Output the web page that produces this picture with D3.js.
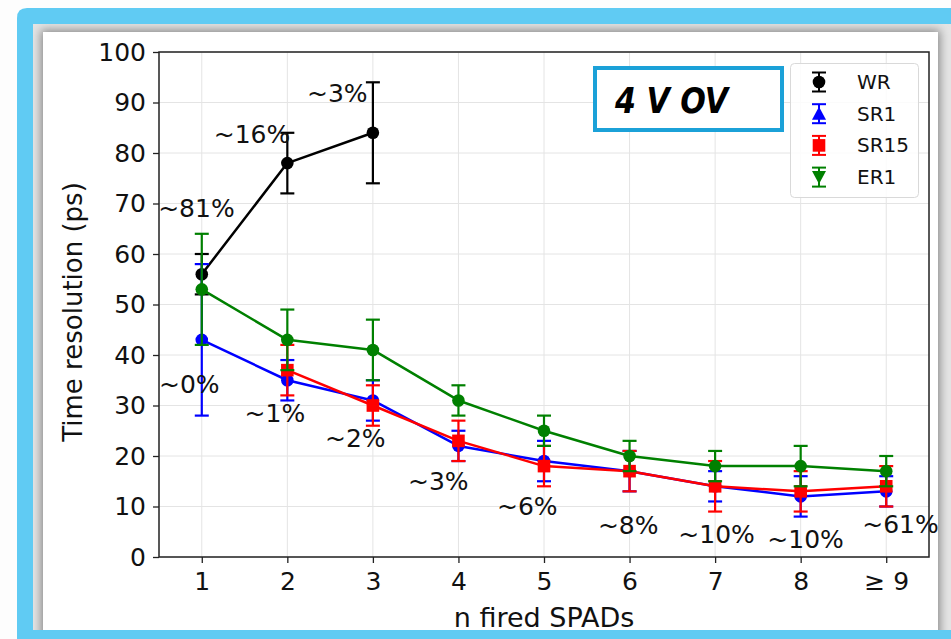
<!DOCTYPE html>
<html>
<head>
<meta charset="utf-8">
<script src="https://cdn.jsdelivr.net/npm/d3@7"></script>
<style>
  body { margin: 0; background: #fdfdfd; }
  svg { display: block; font-family: "DejaVu Sans", sans-serif; }
</style>
</head>
<body>
<script>
// n fired SPADs categories
const nSpads = [1, 2, 3, 4, 5, 6, 7, 8, 9];
const tickLabels = ["1", "2", "3", "4", "5", "6", "7", "8", "\u2265 9"];
const yTicks = [0, 10, 20, 30, 40, 50, 60, 70, 80, 90, 100];

// time resolution (ps) and errors, per series
const wrValues = [56, 78, 84];
const wrErrors = [4, 6, 10];
const sr1Values = [43, 35, 31, 22, 19, 17, 14, 12, 13];
const sr1Errors = [15, 4, 4, 3, 4, 4, 3, 4, 3];
const sr15Values = [null, 37, 30, 23, 18, 17, 14, 13, 14];
const sr15Errors = [null, 5, 4, 4, 4, 4, 5, 4, 4];
const er1Values = [53, 43, 41, 31, 25, 20, 18, 18, 17];
const er1Errors = [11, 6, 6, 3, 3, 3, 3, 4, 3];

// percentage notes and where they sit (data units)
const noteLabels = ["~81%", "~16%", "~3%", "~0%", "~1%", "~2%", "~3%", "~6%", "~8%", "~10%", "~10%", "~61%"];
const noteX = [0.49, 1.14, 2.23, 0.5, 1.5, 2.44, 3.41, 4.45, 5.63, 6.57, 7.61, 8.72];
const noteY = [67.3, 82, 90.1, 32.5, 26.7, 21.8, 13.3, 8.3, 4.6, 2.8, 1.8, 4.8];

const W = 951, H = 639;
const svg = d3.select("body").append("svg").attr("width", W).attr("height", H);
const defs = svg.append("defs");

// ---- picture frame ----
svg.append("path")
  .attr("d", `M17,${H} L17,18 Q17,8 27,8 L${W},8 L${W},${H} Z`)
  .attr("fill", "#60cbf3");
defs.append("clipPath").attr("id", "inner")
  .append("rect").attr("x", 33).attr("y", 24).attr("width", W - 33).attr("height", 630 - 24);
defs.append("filter").attr("id", "blur").attr("x", "-10%").attr("y", "-10%").attr("width", "120%").attr("height", "120%")
  .append("feGaussianBlur").attr("stdDeviation", 5);
const inner = svg.append("g").attr("clip-path", "url(#inner)");
inner.append("rect").attr("x", 33).attr("y", 24).attr("width", W - 33).attr("height", 606).attr("fill", "#e4e4e4");
inner.append("rect").attr("x", 41).attr("y", 30).attr("width", 899).attr("height", 620)
  .attr("fill", "#888").attr("filter", "url(#blur)");
inner.append("rect").attr("x", 43).attr("y", 32).attr("width", 895).attr("height", 598).attr("fill", "#fff");

// ---- scales ----
const x = d3.scaleLinear().domain([0.5, 9.5]).range([159, 929]);
const y = d3.scaleLinear().domain([0, 100]).range([557, 52]);

// grid
const grid = svg.append("g").attr("stroke", "#e4e4e4").attr("stroke-width", 1);
grid.selectAll(".gx").data(nSpads).join("line")
  .attr("x1", d => x(d)).attr("x2", d => x(d)).attr("y1", y(0)).attr("y2", y(100));
grid.selectAll(".gy").data(yTicks).join("line")
  .attr("x1", x(0.5)).attr("x2", x(9.5)).attr("y1", d => y(d)).attr("y2", d => y(d));

// axes
const xAxis = svg.append("g").attr("transform", `translate(0,${y(0)})`)
  .call(d3.axisBottom(x).tickValues(nSpads).tickFormat((d, i) => tickLabels[i]).tickSize(6).tickPadding(7));
const yAxis = svg.append("g").attr("transform", `translate(${x(0.5)},0)`)
  .call(d3.axisLeft(y).tickValues(yTicks).tickSize(6).tickPadding(7));
[xAxis, yAxis].forEach(a => {
  a.select(".domain").remove();
  a.selectAll(".tick line").attr("stroke", "#222").attr("stroke-width", 1.3);
  a.selectAll(".tick text").attr("fill", "#111").style("font-size", "25px").style("font-family", "DejaVu Sans");
});
xAxis.selectAll(".tick text").attr("dy", "0.78em");

// spines
svg.append("rect").attr("x", x(0.5)).attr("y", y(100))
  .attr("width", x(9.5) - x(0.5)).attr("height", y(0) - y(100))
  .attr("fill", "none").attr("stroke", "#222").attr("stroke-width", 1.5);

// axis titles
svg.append("text").attr("x", x(5)).attr("y", 627).attr("text-anchor", "middle")
  .style("font-size", "27px").attr("fill", "#111").text("n fired SPADs");
svg.append("text").attr("transform", `translate(82,312) rotate(-90)`).attr("text-anchor", "middle")
  .style("font-size", "26px").attr("fill", "#111").text("Time resolution (ps)");

// ---- series ----
function toPoints(values, errors) {
  return values.map((v, i) => ({ n: nSpads[i], v: v, e: errors[i] })).filter(d => d.v != null);
}
const series = [
  { name: "WR", color: "black", shape: "circle", plotShape: "circle", pts: toPoints(wrValues, wrErrors) },
  { name: "SR1", color: "#0000ff", shape: "triangleUp", plotShape: "circle", pts: toPoints(sr1Values, sr1Errors) },
  { name: "SR15", color: "#ff0000", shape: "square", plotShape: "square", pts: toPoints(sr15Values, sr15Errors) },
  { name: "ER1", color: "#008000", shape: "triangleDown", plotShape: "circle", pts: toPoints(er1Values, er1Errors) }
];

function drawMarker(g, shape, cx, cy, color) {
  if (shape === "circle") {
    g.append("circle").attr("cx", cx).attr("cy", cy).attr("r", 6.3).attr("fill", color);
  } else if (shape === "square") {
    g.append("rect").attr("x", cx - 6.3).attr("y", cy - 6.3).attr("width", 12.6).attr("height", 12.6).attr("fill", color);
  } else {
    const s = shape === "triangleUp" ? -1 : 1;
    g.append("path").attr("d", `M${cx - 7},${cy - s * 6} L${cx + 7},${cy - s * 6} L${cx},${cy + s * 7} Z`).attr("fill", color);
  }
}

const line = d3.line().x(d => x(d.n)).y(d => y(d.v));
series.forEach(s => {
  const g = svg.append("g");
  g.append("path").datum(s.pts).attr("d", line)
    .attr("fill", "none").attr("stroke", s.color).attr("stroke-width", 2.5).attr("stroke-linejoin", "round");
  const eb = g.append("g").attr("stroke", s.color).attr("stroke-width", 2.2);
  eb.selectAll(".bar").data(s.pts).join("line")
    .attr("x1", d => x(d.n)).attr("x2", d => x(d.n)).attr("y1", d => y(d.v - d.e)).attr("y2", d => y(d.v + d.e));
  eb.selectAll(".capT").data(s.pts).join("line")
    .attr("x1", d => x(d.n) - 7).attr("x2", d => x(d.n) + 7).attr("y1", d => y(d.v + d.e)).attr("y2", d => y(d.v + d.e));
  eb.selectAll(".capB").data(s.pts).join("line")
    .attr("x1", d => x(d.n) - 7).attr("x2", d => x(d.n) + 7).attr("y1", d => y(d.v - d.e)).attr("y2", d => y(d.v - d.e));
  s.pts.forEach(d => drawMarker(g, s.plotShape, x(d.n), y(d.v), s.color));
});

// ---- percentage notes ----
svg.append("g").selectAll("text").data(noteLabels).join("text")
  .attr("x", (d, i) => x(noteX[i])).attr("y", (d, i) => y(noteY[i]))
  .style("font-size", "25px").attr("fill", "#111").text(d => d);

// ---- "4 V OV" box ----
svg.append("rect").attr("x", 595).attr("y", 68).attr("width", 187).attr("height", 62)
  .attr("fill", "#fff").attr("stroke", "#1ba1d8").attr("stroke-width", 4);
svg.append("text").attr("x", 615).attr("y", 113)
  .attr("textLength", 113).attr("lengthAdjust", "spacingAndGlyphs")
  .style("font-size", "35px").style("font-weight", "bold").style("font-style", "italic")
  .attr("fill", "#000").text("4 V OV");

// ---- legend ----
const legend = svg.append("g");
legend.append("rect").attr("x", 790.5).attr("y", 63.5).attr("width", 128).attr("height", 134).attr("rx", 4)
  .attr("fill", "#fff").attr("fill-opacity", 0.85).attr("stroke", "#d9d9d9").attr("stroke-width", 1);
series.forEach((s, i) => {
  const cy = 82 + i * 31.7, cx = 819;
  const g = legend.append("g");
  g.append("line").attr("x1", cx).attr("x2", cx).attr("y1", cy - 9.5).attr("y2", cy + 9.5).attr("stroke", s.color).attr("stroke-width", 2);
  [-9.5, 9.5].forEach(o => g.append("line").attr("x1", cx - 7).attr("x2", cx + 7).attr("y1", cy + o).attr("y2", cy + o)
    .attr("stroke", s.color).attr("stroke-width", 2));
  drawMarker(g, s.shape, cx, cy, s.color);
  g.append("text").attr("x", 857).attr("y", cy + 7).style("font-size", "20px").attr("fill", "#111").text(s.name);
});
</script>
</body>
</html>
